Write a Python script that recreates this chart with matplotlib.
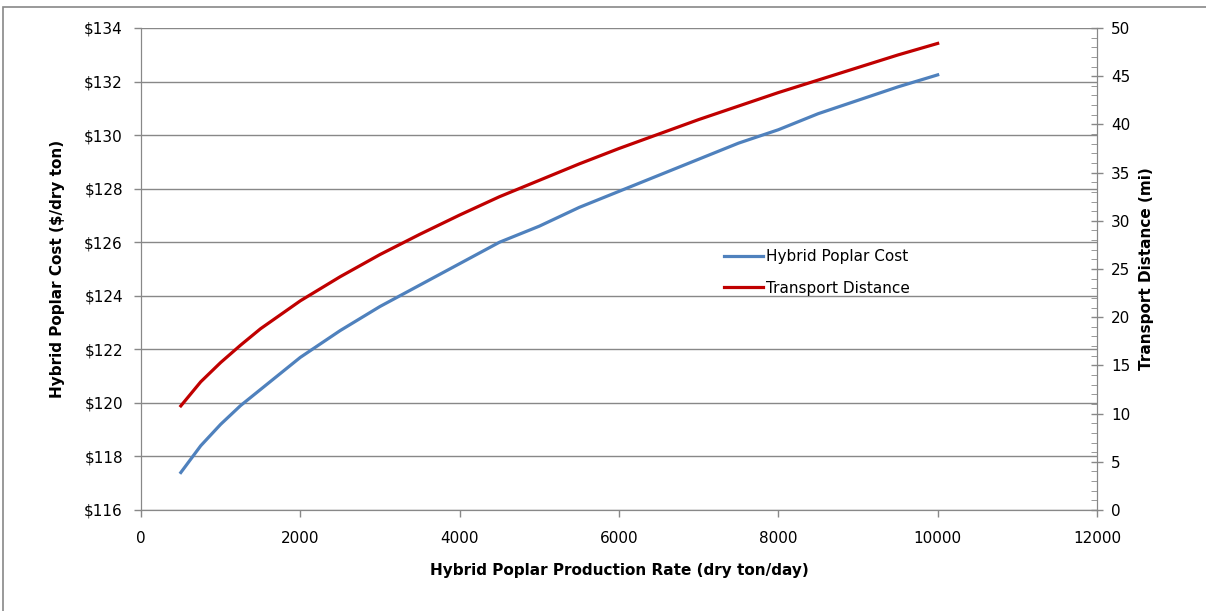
#libraries
import matplotlib
matplotlib.use('Agg')
import matplotlib.pyplot as plt
from matplotlib.ticker import FuncFormatter, MultipleLocator
from matplotlib.patches import Rectangle

#data
production_rate = [500, 750, 1000, 1250, 1500, 2000, 2500, 3000, 3500, 4000, 4500,
                   5000, 5500, 6000, 6500, 7000, 7500, 8000, 8500, 9000, 9500, 10000]
poplar_cost = [117.4, 118.4, 119.2, 119.9, 120.5, 121.7, 122.7, 123.6, 124.4, 125.2, 126.0,
               126.6, 127.3, 127.9, 128.5, 129.1, 129.7, 130.2, 130.8, 131.3, 131.8, 132.25]
transport_distance = [10.8, 13.3, 15.3, 17.1, 18.8, 21.7, 24.2, 26.5, 28.6, 30.6, 32.5,
                      34.2, 35.9, 37.5, 39.0, 40.5, 41.9, 43.3, 44.6, 45.9, 47.2, 48.4]

GRAY = '#888888'
BLUE = '#4F81BD'
RED = '#C00000'

#figure
fig = plt.figure(figsize=(12.06, 6.11), dpi=100)
fig.patches.append(Rectangle((3/1206, -0.1), 1.2, (611-7)/611 + 0.1, transform=fig.transFigure,
                             fill=False, edgecolor=GRAY, linewidth=1.2))
ax1 = fig.add_axes([141/1206, 101/611, 956/1206, 482/611])
ax2 = ax1.twinx()

l1, = ax1.plot(production_rate, poplar_cost, color=BLUE, linewidth=2.3, label='Hybrid Poplar Cost')
l2, = ax2.plot(production_rate, transport_distance, color=RED, linewidth=2.3, label='Transport Distance')

#left axis
ax1.set_xlim(0, 12000)
ax1.set_ylim(116, 134)
ax1.yaxis.set_major_locator(MultipleLocator(2))
ax1.xaxis.set_major_locator(MultipleLocator(2000))
ax1.yaxis.set_major_formatter(FuncFormatter(lambda v, p: '$%d' % v))
ax1.grid(axis='y', color=GRAY, linewidth=1)
ax1.set_axisbelow(True)

#right axis
ax2.set_ylim(0, 50)
ax2.yaxis.set_major_locator(MultipleLocator(5))
ax2.yaxis.set_minor_locator(MultipleLocator(1))

for ax in (ax1, ax2):
    for s in ax.spines.values():
        s.set_color(GRAY)
    ax.spines['top'].set_visible(False)
    ax.tick_params(colors=GRAY, labelcolor='black', labelsize=11, length=5, width=1)
ax1.tick_params(axis='x', pad=10)
ax1.tick_params(axis='y', pad=8)
ax2.tick_params(which='major', direction='inout', length=8, pad=6)
ax2.tick_params(which='minor', direction='in', length=4, color=GRAY)

ax1.set_xlabel('Hybrid Poplar Production Rate (dry ton/day)', fontsize=11, fontweight='bold', labelpad=12)
ax1.set_ylabel('Hybrid Poplar Cost ($/dry ton)', fontsize=11, fontweight='bold', labelpad=14)
ax2.set_ylabel('Transport Distance (mi)', fontsize=11, fontweight='bold', labelpad=6)

ax1.legend(handles=[l1, l2], loc='upper left', bbox_to_anchor=(0.595, 0.57), frameon=False,
           fontsize=11, handlelength=2.6, handletextpad=0.2, labelspacing=1.1)

fig.savefig('out.png', dpi=100)
